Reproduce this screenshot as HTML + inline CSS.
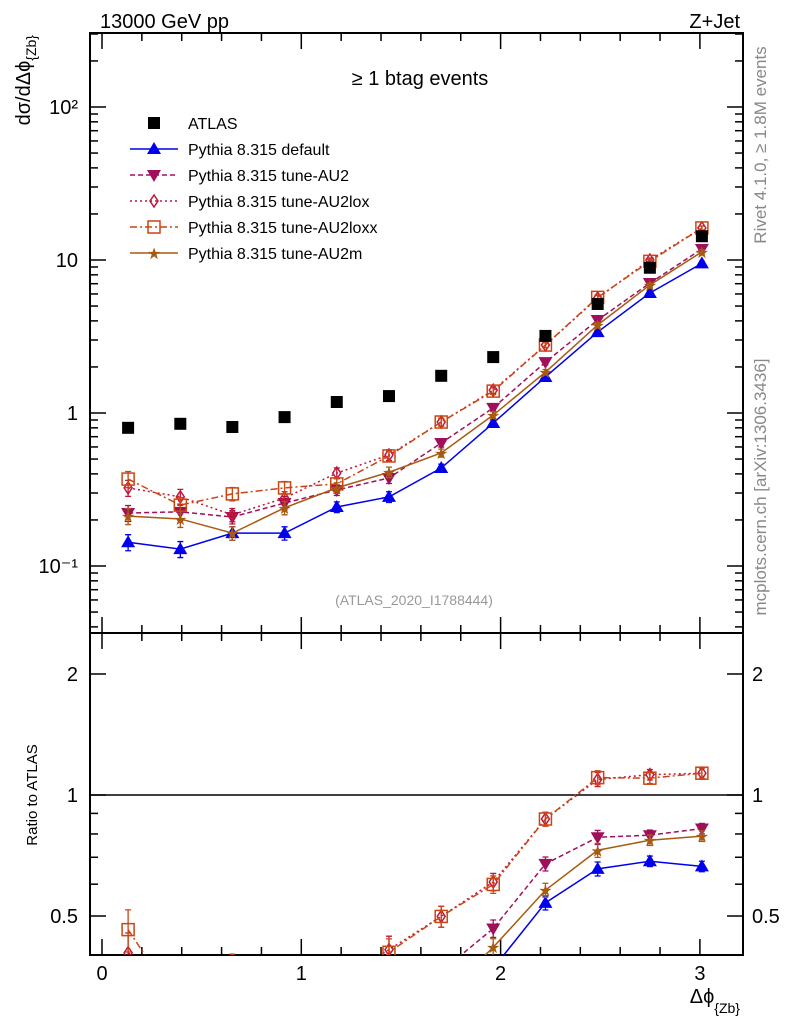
<!DOCTYPE html>
<html><head><meta charset="utf-8"><style>
html,body{margin:0;background:#fff;overflow:hidden;width:786px;height:1024px;}
svg{font-family:"Liberation Sans",sans-serif;display:block;}
</style></head><body>
<svg id="c" width="786" height="1024" xmlns="http://www.w3.org/2000/svg">
<defs>
<clipPath id="cm"><rect x="90" y="33" width="653" height="600"/></clipPath>
<clipPath id="cr"><rect x="90" y="633" width="653" height="322"/></clipPath>
</defs>
<rect x="90" y="33" width="653" height="600" fill="none" stroke="#000" stroke-width="2"/>
<rect x="90" y="633" width="653" height="322" fill="none" stroke="#000" stroke-width="2"/>
<text x="100" y="28" font-size="20">13000 GeV pp</text>
<text x="740" y="28" font-size="20" text-anchor="end">Z+Jet</text>
<text x="420" y="85" font-size="20" text-anchor="middle">≥ 1 btag events</text>
<text x="414" y="605" font-size="14" fill="#999" text-anchor="middle">(ATLAS_2020_I1788444)</text>
<text transform="translate(766,145) rotate(-90)" font-size="17" fill="#888" text-anchor="middle">Rivet 4.1.0, ≥ 1.8M events</text>
<text transform="translate(766,487) rotate(-90)" font-size="17" fill="#888" text-anchor="middle">mcplots.cern.ch [arXiv:1306.3436]</text>
<text transform="translate(30,35) rotate(-90)" font-size="20" text-anchor="end">dσ/dΔϕ<tspan font-size="14" dy="6">{Zb}</tspan></text>
<text transform="translate(37,795) rotate(-90)" font-size="15" text-anchor="middle">Ratio to ATLAS</text>
<text x="740" y="1003" font-size="20" text-anchor="end">Δϕ<tspan font-size="14" dy="10">{Zb}</tspan></text>
<g id="axes"></g>
<g id="marks"></g>
<g id="legend"></g>
</svg>
<script>
const xCenters=[0.131,0.393,0.654,0.916,1.178,1.440,1.702,1.963,2.225,2.487,2.749,3.010];
const atlas=[0.80,0.85,0.81,0.94,1.18,1.29,1.75,2.32,3.19,5.16,8.9,14.3];
const pyDefault=[0.143,0.129,0.164,0.164,0.243,0.283,0.437,0.86,1.72,3.38,6.09,9.5];
const pyAU2=[0.222,0.226,0.209,0.258,0.314,0.376,0.637,1.08,2.15,4.05,7.07,11.8];
const pyAU2lox=[0.324,0.283,0.216,0.278,0.405,0.532,0.873,1.41,2.78,5.64,10.0,16.2];
const pyAU2loxx=[0.37,0.25,0.296,0.324,0.344,0.524,0.873,1.39,2.78,5.7,9.8,16.2];
const pyAU2m=[0.212,0.203,0.164,0.24,0.324,0.41,0.548,0.97,1.85,3.76,6.87,11.3];
const relErr=[0.12,0.12,0.1,0.1,0.08,0.08,0.06,0.05,0.04,0.04,0.03,0.03];
const yTicksMain=[[100,"10²"],[10,"10"],[1,"1"],[0.1,"10⁻¹"]];
const yTicksRatio=[[2,"2"],[1,"1"],[0.5,"0.5"]];
const xTicks=[0,1,2,3];

const NS="http://www.w3.org/2000/svg";
const X=v=>102+v*199.3;
const Y=v=>413-Math.log10(v)*153;
const R=v=>795-Math.log10(v)*402;
function mk(tag,attrs,parent){const e=document.createElementNS(NS,tag);for(const k in attrs)e.setAttribute(k,attrs[k]);parent.appendChild(e);return e;}
const ax=document.getElementById('axes'),mg=document.getElementById('marks'),lg=document.getElementById('legend');

for(let d=-2;d<=2;d++){for(let m=1;m<10;m++){const v=m*Math.pow(10,d);const y=Y(v);if(y<34||y>632)continue;const L=m==1?16:8;
 let t=mk('line',{x1:90,x2:90+L,y1:y,y2:y,stroke:'#000','stroke-width':1.5},ax);
 t=mk('line',{x1:743,x2:743-L,y1:y,y2:y,stroke:'#000','stroke-width':1.5},ax);}}
yTicksMain.forEach(([v,l])=>{const t=mk('text',{x:78,y:Y(v)+7,'font-size':20,'text-anchor':'end'},ax);t.textContent=l;
 });
[0.4,0.5,0.6,0.7,0.8,0.9,1,2].forEach(v=>{const y=R(v);const L=(v==1||v==2||v==0.5)?16:8;
 let t=mk('line',{x1:90,x2:90+L,y1:y,y2:y,stroke:'#000','stroke-width':1.5},ax);
 t=mk('line',{x1:743,x2:743-L,y1:y,y2:y,stroke:'#000','stroke-width':1.5},ax);});
yTicksRatio.forEach(([v,l])=>{let t=mk('text',{x:78,y:R(v)+7,'font-size':20,'text-anchor':'end'},ax);t.textContent=l;
 
 t=mk('text',{x:752,y:R(v)+7,'font-size':20},ax);t.textContent=l;
 });
let ul=mk('line',{x1:90,x2:743,y1:R(1),y2:R(1),stroke:'#000','stroke-width':1.5},ax);
for(let v=0;v<=3.15;v+=0.2){const x=X(v);const maj=Math.abs(v-Math.round(v))<0.01;const L=maj?16:8;
 [[633,-1],[955,-1],[33,1],[633,1]].forEach(([y0,s])=>{const t=mk('line',{x1:x,x2:x,y1:y0,y2:y0+s*L,stroke:'#000','stroke-width':1.5},ax);
 });}
xTicks.forEach(v=>{const t=mk('text',{x:X(v),y:980,'font-size':20,'text-anchor':'middle'},ax);t.textContent=v;
 });

function marker(kind,x,y,color,parent){let e;
 if(kind=='sq')e=mk('rect',{x:x-6,y:y-6,width:12,height:12,fill:'#000'},parent);
 else if(kind=='tu')e=mk('polygon',{points:`${x},${y-7} ${x-7},${y+5} ${x+7},${y+5}`,fill:color},parent);
 else if(kind=='td')e=mk('polygon',{points:`${x},${y+7} ${x-7},${y-5} ${x+7},${y-5}`,fill:color},parent);
 else if(kind=='di')e=mk('polygon',{points:`${x},${y-6} ${x-4},${y} ${x},${y+6} ${x+4},${y}`,fill:'none',stroke:color,'stroke-width':1.5},parent);
 else if(kind=='os')e=mk('rect',{x:x-6,y:y-6,width:12,height:12,fill:'none',stroke:color,'stroke-width':1.5},parent);
 else e=mk('text',{x:x,y:y+6,'font-size':16,fill:color,'text-anchor':'middle'},parent),e.textContent='★';
 return e;}

const series=[
 {name:'pythia-default',label:'Pythia 8.315 default',data:pyDefault,color:'#0000ee',dash:'',mk:'tu'},
 {name:'pythia-au2',label:'Pythia 8.315 tune-AU2',data:pyAU2,color:'#a0105a',dash:'5,3',mk:'td'},
 {name:'pythia-au2lox',label:'Pythia 8.315 tune-AU2lox',data:pyAU2lox,color:'#c0183c',dash:'2,3',mk:'di'},
 {name:'pythia-au2loxx',label:'Pythia 8.315 tune-AU2loxx',data:pyAU2loxx,color:'#cc4411',dash:'7,3,2,3',mk:'os'},
 {name:'pythia-au2m',label:'Pythia 8.315 tune-AU2m',data:pyAU2m,color:'#a85a10',dash:'',mk:'st'}];

const gm=mk('g',{'clip-path':'url(#cm)'},mg),gr=mk('g',{'clip-path':'url(#cr)'},mg);
series.forEach(s=>{
 const pm=s.data.map((v,i)=>`${X(xCenters[i])},${Y(v)}`).join(' ');
 const pr=s.data.map((v,i)=>`${X(xCenters[i])},${R(v/atlas[i])}`).join(' ');
 let l=mk('polyline',{points:pm,fill:'none',stroke:s.color,'stroke-width':1.5,'stroke-dasharray':s.dash},gm);
 
 l=mk('polyline',{points:pr,fill:'none',stroke:s.color,'stroke-width':1.5,'stroke-dasharray':s.dash},gr);
 
 s.data.forEach((v,i)=>{const x=X(xCenters[i]);
  [[gm,Y(v*(1+relErr[i])),Y(v*(1-relErr[i])),Y(v)],[gr,R(v/atlas[i]*(1+relErr[i])),R(v/atlas[i]*(1-relErr[i])),R(v/atlas[i])]].forEach(([g,y1,y2,y])=>{
   const eb=mk('path',{d:`M${x},${y1}V${y2}M${x-3},${y1}h6M${x-3},${y2}h6`,stroke:s.color,'stroke-width':1.3,fill:'none'},g);
   
   const m=marker(s.mk,x,y,s.color,g);
   });});
});
atlas.forEach((v,i)=>{const m=marker('sq',X(xCenters[i]),Y(v),'#000',gm);
 });

let ly=123;
let le=marker('sq',154,ly,'#000',lg);
let lt=mk('text',{x:188,y:ly+6,'font-size':16},lg);lt.textContent='ATLAS';
series.forEach((s,k)=>{const y=149+k*26;
 const l=mk('line',{x1:130,x2:178,y1:y,y2:y,stroke:s.color,'stroke-width':1.5,'stroke-dasharray':s.dash},lg);
 
 const m=marker(s.mk,154,y,s.color,lg);
 const t=mk('text',{x:188,y:y+6,'font-size':16},lg);t.textContent=s.label;
 });
</script>
</body></html>
